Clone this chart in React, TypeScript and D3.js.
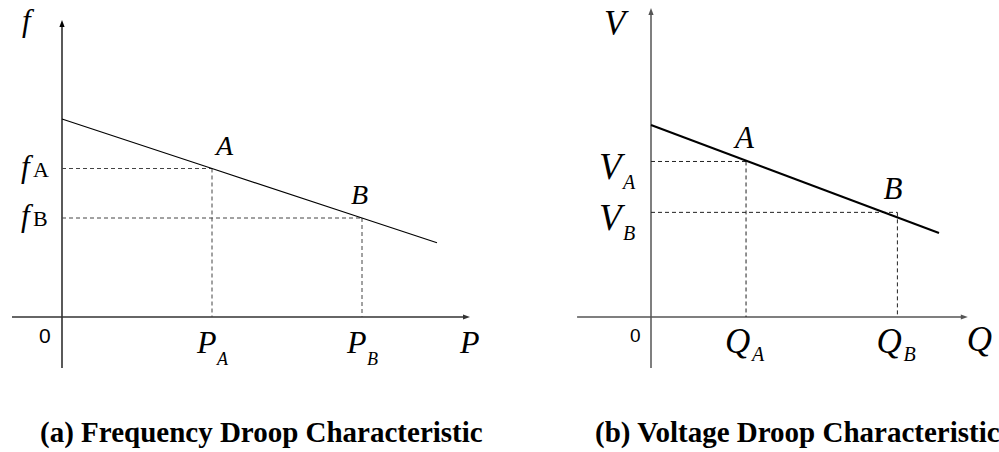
import React from "react";
import * as d3 from "d3";

// Frequency droop (P–f) panel: droop line vertices and operating points A, B
const freqCurveP = [0, 3, 6, 7.5];
const freqCurveF = [10, 7.5, 5, 3.75];
const freqPointNames = ["A", "B"];
const freqPointP = [3, 6];
const freqPointF = [7.5, 5];

// Voltage droop (Q–V) panel
const voltCurveQ = [0, 9];
const voltCurveV = [10, 4.375];
const voltPointNames = ["A", "B"];
const voltPointQ = [2.97, 7.7];
const voltPointV = [8.1, 5.45];

const captions = ["(a) Frequency Droop Characteristic", "(b) Voltage Droop Characteristic"];

const SERIF = "Liberation Serif";
const SANS = "Liberation Sans";

const W = 999;
const H = 452;

const serif = (size: number, italic = true): React.CSSProperties => ({
  fontFamily: SERIF,
  fontStyle: italic ? "italic" : "normal",
  fontSize: size,
});

function Arrow({ x, y, dir, color }: { x: number; y: number; dir: "up" | "right"; color: string }) {
  const len = 7;
  const hw = 2.6;
  const pts =
    dir === "up"
      ? [[x, y], [x - hw, y + len], [x + hw, y + len]]
      : [[x, y], [x - len, y - hw], [x - len, y + hw]];
  return <polygon points={pts.map((p) => p.join(",")).join(" ")} fill={color} />;
}

function FreqPanel() {
  const x = d3.scaleLinear().domain([0, 10]).range([62, 562]);
  const y = d3.scaleLinear().domain([0, 10]).range([317, 119]);
  const line = d3
    .line<number>()
    .x((_, i) => x(freqCurveP[i]))
    .y((_, i) => y(freqCurveF[i]));
  const axisColor = "#000";
  const x0 = x(0);
  const y0 = y(0);
  const xLeft = x(-1);
  const xRight = x(8.16);
  const yTop = y(15);
  const yBottom = y(-2.58);
  const labelDx = [4, -11];
  return (
    <g>
      <line x1={x0} x2={x0} y1={yBottom} y2={yTop + 3} stroke={axisColor} strokeWidth={1.3} />
      <Arrow x={x0} y={yTop} dir="up" color={axisColor} />
      <line x1={xLeft} x2={xRight - 3} y1={y0} y2={y0} stroke="#333" strokeWidth={1.3} />
      <Arrow x={xRight} y={y0} dir="right" color="#333" />

      {freqPointP.map((p, i) => (
        <g key={i} stroke="#444" strokeWidth={1} strokeDasharray="4,3" fill="none">
          <line x1={x0} x2={x(p)} y1={y(freqPointF[i])} y2={y(freqPointF[i])} />
          <line x1={x(p)} x2={x(p)} y1={y(freqPointF[i])} y2={y0} />
        </g>
      ))}

      <path d={line(freqCurveP) ?? ""} fill="none" stroke="#000" strokeWidth={1.2} />

      {freqPointNames.map((n, i) => (
        <text key={n} x={x(freqPointP[i]) + labelDx[i]} y={y(freqPointF[i]) - 14} style={serif(28)}>
          {n}
        </text>
      ))}

      <text x={22} y={31} style={serif(31)}>
        f
      </text>
      <text x={x0 - 23} y={y0 + 26} style={{ fontFamily: SANS, fontSize: 21 }}>
        0
      </text>
      <text x={xRight - 10} y={y0 + 36} style={serif(32)}>
        P
      </text>

      {freqPointF.map((f, i) => (
        <g key={"f" + i}>
          <text x={21} y={y(f) + 8} style={serif(31)}>
            f
          </text>
          <text x={33} y={y(f) + 8} style={serif(22, false)}>
            {freqPointNames[i]}
          </text>
        </g>
      ))}
      {freqPointP.map((p, i) => (
        <g key={"p" + i}>
          <text x={x(p) - 15} y={y0 + 36} style={serif(32)}>
            P
          </text>
          <text x={x(p) + 5} y={y0 + 48} style={serif(18)}>
            {freqPointNames[i]}
          </text>
        </g>
      ))}
    </g>
  );
}

function VoltPanel() {
  const x = d3.scaleLinear().domain([0, 10]).range([651, 971]);
  const y = d3.scaleLinear().domain([0, 10]).range([317, 125]);
  const line = d3
    .line<number>()
    .x((_, i) => x(voltCurveQ[i]))
    .y((_, i) => y(voltCurveV[i]));
  const axisColor = "#555";
  const x0 = x(0);
  const y0 = y(0);
  const xLeft = x(-2.31);
  const xRight = x(9.9);
  const yTop = y(16.1);
  const yBottom = y(-2.65);
  const labelDx = [-11, -14];
  return (
    <g>
      <line x1={x0} x2={x0} y1={yBottom} y2={yTop + 3} stroke={axisColor} strokeWidth={1.5} />
      <Arrow x={x0} y={yTop} dir="up" color={axisColor} />
      <line x1={xLeft} x2={xRight - 3} y1={y0} y2={y0} stroke={axisColor} strokeWidth={1.5} />
      <Arrow x={xRight} y={y0} dir="right" color={axisColor} />

      {voltPointQ.map((q, i) => (
        <g key={i} stroke="#222" strokeWidth={1} strokeDasharray="4,3" fill="none">
          <line x1={x0} x2={x(q)} y1={y(voltPointV[i])} y2={y(voltPointV[i])} />
          <line x1={x(q)} x2={x(q)} y1={y(voltPointV[i])} y2={y0} />
        </g>
      ))}

      <path d={line(voltCurveQ) ?? ""} fill="none" stroke="#000" strokeWidth={2} />

      {voltPointNames.map((n, i) => (
        <text key={n} x={x(voltPointQ[i]) + labelDx[i]} y={y(voltPointV[i]) - 13} style={serif(31)}>
          {n}
        </text>
      ))}

      <text x={604} y={35} style={serif(35)}>
        V
      </text>
      <text x={x0 - 21} y={y0 + 25} style={{ fontFamily: SANS, fontSize: 19 }}>
        0
      </text>
      <text x={xRight - 1} y={y0 + 34} style={serif(35)}>
        Q
      </text>

      {voltPointV.map((v, i) => (
        <g key={"v" + i}>
          <text x={599} y={y(v) + 18} style={serif(37)}>
            V
          </text>
          <text x={623} y={y(v) + 28} style={serif(20)}>
            {voltPointNames[i]}
          </text>
        </g>
      ))}
      {voltPointQ.map((q, i) => (
        <g key={"q" + i}>
          <text x={x(q) - 21} y={y0 + 36} style={serif(35)}>
            Q
          </text>
          <text x={x(q) + 6} y={y0 + 44} style={serif(20)}>
            {voltPointNames[i]}
          </text>
        </g>
      ))}
    </g>
  );
}

export default function App() {
  const captionX = [40, 595];
  return (
    <svg
      width={W}
      height={H}
      viewBox={`0 0 ${W} ${H}`}
      style={{ position: "absolute", left: 0, top: 0, background: "#fff" }}
    >
      <rect width={W} height={H} fill="#fff" />
      <FreqPanel />
      <VoltPanel />
      {captions.map((c, i) => (
        <text
          key={i}
          x={captionX[i]}
          y={442}
          style={{ fontFamily: SERIF, fontWeight: "bold", fontSize: 29 }}
        >
          {c}
        </text>
      ))}
    </svg>
  );
}
